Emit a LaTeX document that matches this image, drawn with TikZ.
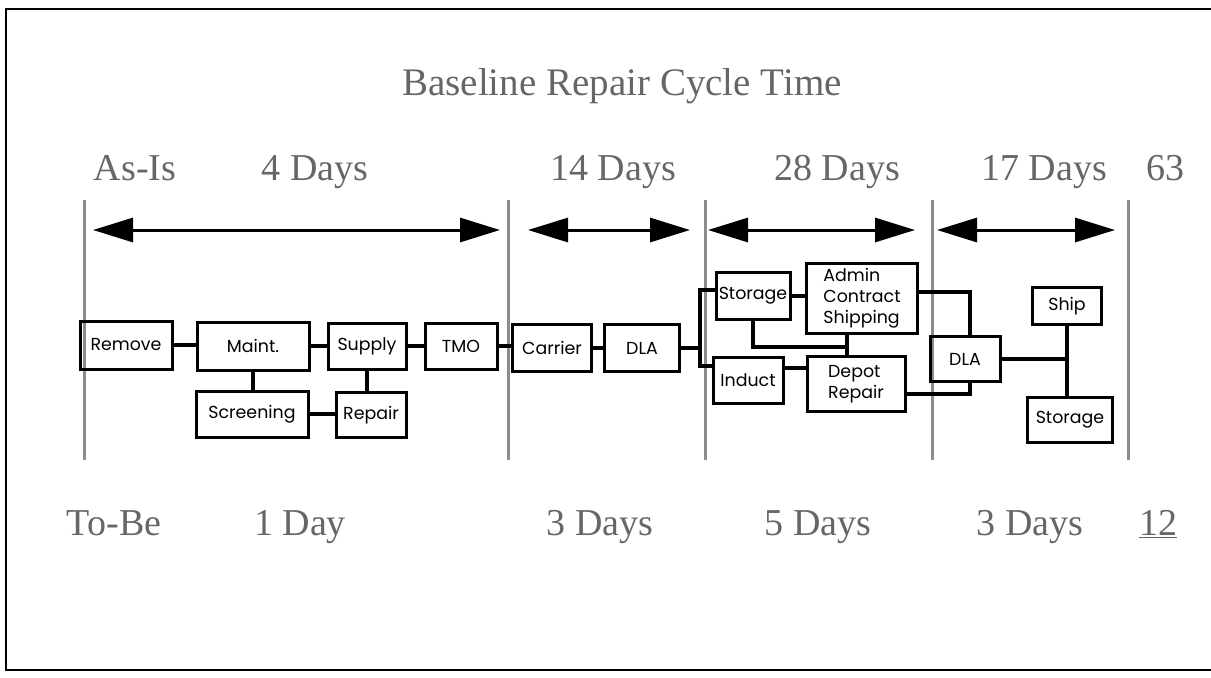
\documentclass[tikz,border=0pt]{standalone}
\usepackage{fontspec}
\setmainfont{Liberation Serif}
\newfontfamily\boxfont{Poppins}
\usetikzlibrary{arrows.meta}

\begin{document}
\begin{tikzpicture}[x=0.5pt, y=-0.5pt,
    box/.style={draw, line width=1.5pt, inner sep=1pt, font=\boxfont\fontsize{8.7}{10.5}\selectfont},
    link/.style={line width=2pt},
    span/.style={line width=1.5pt, {Triangle[length=20pt,width=12pt]}-{Triangle[length=20pt,width=12pt]}},
    sep/.style={line width=1.5pt, black!45},
    days/.style={anchor=base, text=black!60, font=\fontsize{19}{22}\selectfont}]
    \useasboundingbox (0,0) rectangle (1211,677);
    % frame
    \draw[line width=1.2pt] (1211,9) -- (6,9) -- (6,670) -- (1211,670);

    % Title and day counts
    \node[days, font=\fontsize{19.5}{22}\selectfont] (title) at (622,95) {Baseline Repair Cycle Time};
    \node[days] (asis) at (135,180) {As-Is};
    \node[days] (d1) at (315,180) {4 Days};
    \node[days] (d2) at (613,180) {14 Days};
    \node[days] (d3) at (837,180) {28 Days};
    \node[days] (d4) at (1044,180) {17 Days};
    \node[days] (tot) at (1165,180) {63};
    \node[days] (tobe) at (114,535) {To-Be};
    \node[days] (e1) at (300,535) {1 Day};
    \node[days] (e2) at (600,535) {3 Days};
    \node[days] (e3) at (818,535) {5 Days};
    \node[days] (e4) at (1030,535) {3 Days};
    \node[days] (newtot) at (1158,535) {\underline{12}};

    % Separators and spans
    \foreach \x in {84,508,705,932,1128}
        \draw[sep] (\x,200) -- (\x,460);
    \draw[span] (93,230) -- (500,230);
    \draw[span] (528,230) -- (690,230);
    \draw[span] (708,230) -- (915,230);
    \draw[span] (937,230) -- (1115,230);

    % Base level
    \node[box, minimum width=46pt, minimum height=24pt] (rem) at (126,345) {Remove};
    \node[box, minimum width=56pt, minimum height=24pt] (maint) at (253,346) {Maint.};
    \node[box, minimum width=39pt, minimum height=23pt] (supply) at (367,346) {Supply};
    \node[box, minimum width=36pt, minimum height=23pt] (tmo) at (461,346) {TMO};
    \node[box, minimum width=56pt, minimum height=23pt] (screen) at (252,414) {Screening};
    \node[box, minimum width=35pt, minimum height=22.5pt] (repair) at (371,415) {Repair};

    % Transport
    \node[box, minimum width=39.5pt, minimum height=23.5pt] (carrier) at (552,348) {Carrier};
    \node[box, minimum width=37.5pt, minimum height=23.5pt] (dla) at (642,348) {DLA};

    % Depot
    \node[box, minimum width=37pt, minimum height=23.5pt] (stor) at (753,296) {Storage};
    \node[box, minimum width=55.5pt, minimum height=35pt, align=left] (admin) at (862,298) {Admin\\Contract\\Shipping};
    \node[box, minimum width=35pt, minimum height=23pt] (induct) at (748,380) {Induct};
    \node[box, minimum width=49pt, minimum height=27.5pt, align=left] (depot) at (856,384) {Depot\\Repair};

    % Return
    \node[box, minimum width=35pt, minimum height=22.5pt] (dlab) at (965,359) {DLA};
    \node[box, minimum width=34.5pt, minimum height=18.5pt] (ship) at (1067,306) {Ship};
    \node[box, minimum width=42.5pt, minimum height=22.5pt] (storb) at (1070,420) {Storage};

    \coordinate (fork) at (700,348);
    \coordinate (mid) at (847,347);

    \draw[link] (rem.east) -- (rem.east -| maint.west);
    \draw[link] (maint.east) -- (maint.east -| supply.west);
    \draw[link] (supply.east) -- (supply.east -| tmo.west);
    \draw[link] (tmo.east) -- (tmo.east -| carrier.west);
    \draw[link] (carrier.east) -- (carrier.east -| dla.west);
    \draw[link] (maint.south) -- (maint.south |- screen.north);
    \draw[link] (supply.south) -- (supply.south |- repair.north);
    \draw[link] (screen.east) -- (screen.east -| repair.west);
    \draw[link] (dla.east) -- (fork);
    \draw[link] ([yshift=3pt]stor.west) -| (fork) |- ([yshift=7pt]induct.west);
    \draw[link] (stor.east) -- (stor.east -| admin.west);
    \draw[link] (stor.south) |- (mid);
    \draw[link] (admin.south -| mid) -- (depot.north -| mid);
    \draw[link] ([yshift=6pt]induct.east) -- ([yshift=6pt]induct.east -| depot.west);
    \draw[link] ([yshift=3pt]admin.east) -| ([xshift=2.5pt]dlab.north);
    \draw[link] ([yshift=-5pt]depot.east) -| ([xshift=2.5pt]dlab.south);
    \draw[link] (dlab.east) -- (dlab.east -| ship.south);
    \draw[link] (ship.south) -- (ship.south |- storb.north);
\end{tikzpicture}
\end{document}
